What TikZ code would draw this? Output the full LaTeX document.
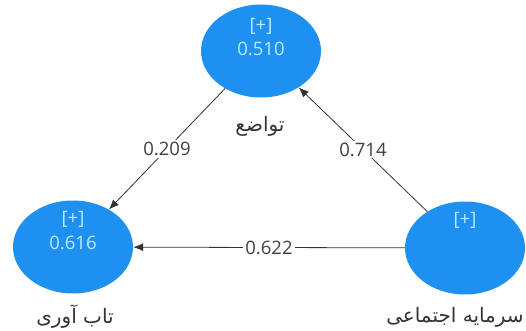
\documentclass[tikz,border=0pt]{standalone}
\usepackage{fontspec}
\setmainfont{Open Sans}
\newfontfamily\farsi[Script=Arabic]{DejaVu Sans}
\TeXXeTstate=1
\usetikzlibrary{shapes.geometric,arrows.meta}
\definecolor{lvblue}{RGB}{30,144,240}
\definecolor{lvtext}{RGB}{190,235,255}
\tikzset{
  latent/.style={ellipse, fill=lvblue, minimum width=120pt, minimum height=93pt, inner sep=0pt},
  rsq/.style={text=lvtext, font=\fontsize{18.5}{22}\selectfont},
  pathval/.style={fill=white, inner sep=2pt, text=black!75, font=\fontsize{18.5}{22}\selectfont},
  lvname/.style={text=black!80, font=\farsi\fontsize{20}{24}\selectfont},
  effect/.style={draw=black!80, line width=0.8pt, -{Latex[length=10pt,width=8pt]}}
}

\begin{document}
\begin{tikzpicture}[x=1pt,y=-1pt]
\useasboundingbox (0,0) rectangle (526,331);
\node[latent] (tavazo) at (261,51) {};
\node[latent] (tabavari) at (73,247) {};
\node[latent] (sarmaye) at (465,248) {};
\node[rsq] (tavazo-plus) at (261,26) {[+]};
\node[rsq] (tavazo-r2) at (261,49) {0.510};
\node[rsq] (tabavari-plus) at (73,219) {[+]};
\node[rsq] (tabavari-r2) at (73,243) {0.616};
\node[rsq] (sarmaye-plus) at (465,220) {[+]};
\node[lvname] (tavazo-name) at (260,126) {\beginR تواضع\endR};
\node[lvname] (tabavari-name) at (75,317) {\beginR تاب آوری\endR};
\node[lvname] (sarmaye-name) at (455,317) {\beginR سرمایه اجتماعی\endR};
\draw[effect] (tavazo) -- node[pathval] (b1) {0.209} (tabavari);
\draw[effect] (sarmaye) -- node[pathval] (b2) {0.714} (tavazo);
\draw[effect] (sarmaye) -- node[pathval] (b3) {0.622} (tabavari);
\end{tikzpicture}
\end{document}
